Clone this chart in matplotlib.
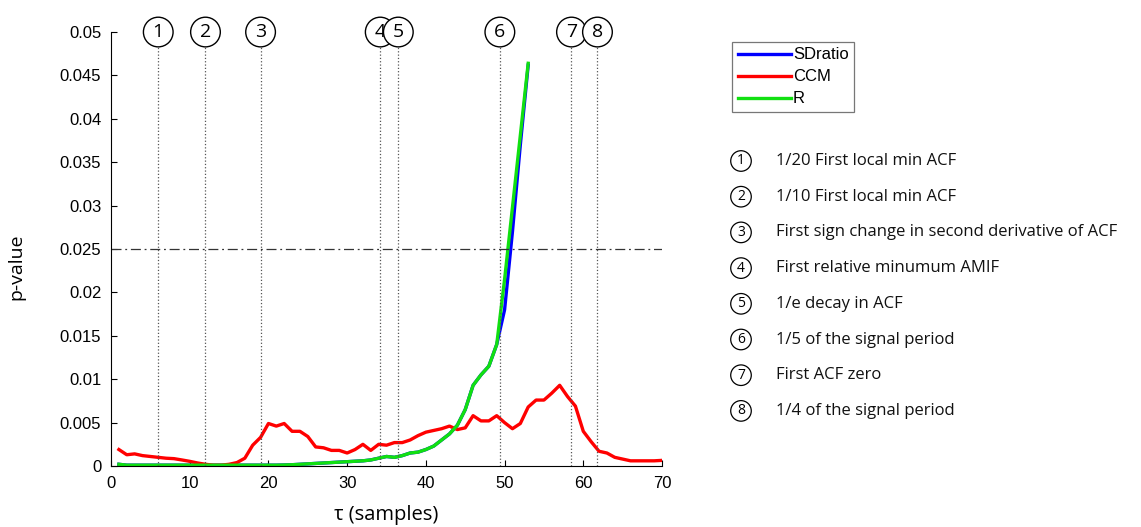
import numpy as np
import matplotlib
matplotlib.use("Agg")
import matplotlib.pyplot as plt

# lag axis
tau = np.arange(1, 71)
tau_short = np.arange(1, 54)

# CCM p-values
ccm = [0.0019, 0.0013, 0.0014, 0.0012, 0.0011, 0.0010, 0.0009, 0.00085, 0.0007, 0.00054,
       0.00035, 0.0002, 0.0001, 0.0001, 0.0002, 0.0004, 0.0009, 0.0024, 0.0033, 0.0049,
       0.0046, 0.0049, 0.0040, 0.0040, 0.0034, 0.0022, 0.0021, 0.0018, 0.0018, 0.0015,
       0.0019, 0.0025, 0.0018, 0.0025, 0.0024, 0.0027, 0.0027, 0.0030, 0.0035, 0.0039,
       0.0041, 0.0043, 0.0046, 0.0042, 0.0044, 0.0058, 0.0052, 0.0052, 0.0058, 0.0050,
       0.0043, 0.0049, 0.0068, 0.0076, 0.0076, 0.0084, 0.0093, 0.0080, 0.0069, 0.0040,
       0.0028, 0.0017, 0.0015, 0.0010, 0.0008, 0.0006, 0.0006, 0.0006, 0.0006, 0.00065]

# R p-values
r_val = [0.0002, 0.0001, 0.0001, 0.0001, 0.0001, 0.0001, 0.0001, 0.0001, 0.0001, 0.0001,
         0.0001, 0.0001, 0.0001, 0.0001, 0.0001, 0.0001, 0.0001, 0.0001, 0.0001, 0.0001,
         0.0001, 0.00012, 0.00015, 0.0002, 0.00025, 0.0003, 0.00035, 0.0004, 0.00045, 0.0005,
         0.00055, 0.0006, 0.0007, 0.0009, 0.0011, 0.0010, 0.0012, 0.0015, 0.0016, 0.0019,
         0.0023, 0.0030, 0.0037, 0.0047, 0.0065, 0.0093, 0.0105, 0.0115, 0.0140, 0.0215,
         0.0298, 0.0381, 0.0464]

# SDratio p-values (hidden under R except near tau = 50)
sd_val = r_val[:49] + [0.0180, 0.0270, 0.0370, 0.0462]

marker_pos = [6, 12, 19, 34.2, 36.5, 49.4, 58.5, 61.8]
marker_txt = ["1/20 First local min ACF",
              "1/10 First local min ACF",
              "First sign change in second derivative of ACF",
              "First relative minumum AMIF",
              "1/e decay in ACF",
              "1/5 of the signal period",
              "First ACF zero",
              "1/4 of the signal period"]

fig = plt.figure(figsize=(11.41, 5.27), dpi=100)
ax = fig.add_axes([0.0973, 0.1157, 0.4829, 0.8235])

ax.plot(tau_short, sd_val, color="#0000ff", lw=2.4, label="SDratio")
ax.plot(tau, ccm, color="#ff0000", lw=2.4, label="CCM")
ax.plot(tau_short, r_val, color="#11e011", lw=2.4, label="R")

ax.axhline(0.025, color="#333333", lw=0.9, ls=(0, (8, 3, 1.5, 3)))
ax.vlines(marker_pos, 0, 0.0483, colors="#555555", linestyles=":", lw=0.9)
for i, x in enumerate(marker_pos):
    ax.text(x, 0.05, str(i + 1), ha="center", va="center", fontsize=14,
            family="Open Sans", clip_on=False,
            bbox=dict(boxstyle="circle,pad=0.3", fc="white", ec="black", lw=1))

ax.set_xlim(0, 70)
ax.set_ylim(0, 0.05)
ax.set_xticks(np.arange(0, 71, 10))
ax.set_yticks(np.arange(0, 0.0501, 0.005))
ax.set_yticklabels(["0", "0.005", "0.01", "0.015", "0.02", "0.025", "0.03",
                    "0.035", "0.04", "0.045", "0.05"])
ax.tick_params(direction="in", labelsize=12, length=4, pad=7)
for lab in ax.get_xticklabels() + ax.get_yticklabels():
    lab.set_family("Liberation Sans")
ax.spines["top"].set_visible(False)
ax.spines["right"].set_visible(False)
ax.set_xlabel("τ (samples)", fontsize=14.5, family="Open Sans", labelpad=10)
ax.set_ylabel("p-value", fontsize=14, family="Open Sans", labelpad=20)
ax.yaxis.set_label_coords(-0.155, 0.46)

leg = fig.legend(loc="upper left", bbox_to_anchor=(0.6415, 0.921), frameon=True,
                 fancybox=False, edgecolor="#555555", handlelength=3.2,
                 handletextpad=0.1, borderpad=0.35, labelspacing=0.42,
                 borderaxespad=0,
                 prop={"family": "Liberation Sans", "size": 12})
leg.get_frame().set_linewidth(0.9)

for i, t in enumerate(marker_txt):
    yy = 1 - (161 + i * 35.7) / 527
    fig.text(741 / 1141, yy, str(i + 1), ha="center", va="center", fontsize=10,
             family="Open Sans",
             bbox=dict(boxstyle="circle,pad=0.2", fc="white", ec="black", lw=0.9))
    fig.text(776 / 1141, yy, t, ha="left", va="center", fontsize=12,
             family="Open Sans", color="#111111")

fig.savefig("out.png", dpi=100)
